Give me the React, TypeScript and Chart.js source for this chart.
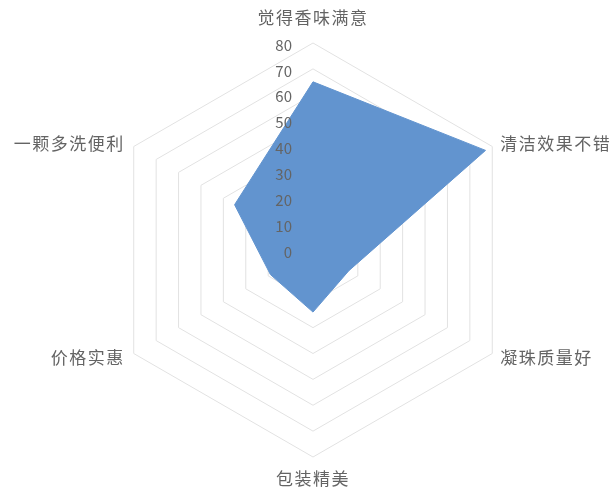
import React, { useEffect, useRef } from "react";
import { Chart, registerables } from "chart.js";

Chart.register(...registerables);

const categories = ["觉得香味满意", "清洁效果不错", "凝珠质量好", "包装精美", "价格实惠", "一颗多洗便利"];
const seriesValues = [65, 77, 16, 24, 19, 35];
const tickValues = [0, 10, 20, 30, 40, 50, 60, 70, 80];

const TEXT_COLOR = "#646464";
const FONT_FAMILY = '"Noto Sans CJK SC", "Noto Sans", sans-serif';

const labelPlugin = {
  id: "excelLabels",
  afterDatasetsDraw(chart: any) {
    const scale = chart.scales.r;
    const ctx = chart.ctx;
    ctx.save();
    // tick labels, left of the vertical axis
    ctx.fillStyle = TEXT_COLOR;
    ctx.font = `15px ${FONT_FAMILY}`;
    ctx.textAlign = "right";
    ctx.textBaseline = "middle";
    tickValues.forEach((v) => {
      const p = scale.getPointPositionForValue(0, v);
      ctx.fillText(String(v), p.x - 21, p.y + 2);
    });
    // category labels
    ctx.font = `17px ${FONT_FAMILY}`;
    (ctx as any).letterSpacing = "1.5px";
    categories.forEach((label, i) => {
      const p = scale.getPointPosition(i, scale.drawingArea);
      const dx = p.x - scale.xCenter;
      const dy = p.y - scale.yCenter;
      let x = p.x;
      let y = p.y;
      if (Math.abs(dx) < 5) {
        ctx.textAlign = "center";
        y = dy < 0 ? p.y - 25 : p.y + 22;
      } else if (dx > 0) {
        ctx.textAlign = "left";
        x = p.x + 8;
        y = dy < 0 ? p.y - 3 : p.y + 4;
      } else {
        ctx.textAlign = "right";
        x = p.x - 9;
        y = dy < 0 ? p.y - 3 : p.y + 4;
      }
      ctx.fillText(label, x, y);
    });
    ctx.restore();
  },
};

export default function App() {
  const canvasRef = useRef<HTMLCanvasElement | null>(null);

  useEffect(() => {
    const canvas = canvasRef.current;
    if (!canvas) return;
    const chart = new Chart(canvas, {
      type: "radar",
      data: {
        labels: categories,
        datasets: [
          {
            data: seriesValues,
            backgroundColor: "#6294cf",
            borderColor: "#6294cf",
            borderWidth: 1,
            fill: true,
            pointRadius: 0,
          },
        ],
      },
      options: {
        responsive: false,
        animation: false,
        layout: { padding: { left: 106, top: 43, right: 95, bottom: 35 } },
        plugins: { legend: { display: false }, tooltip: { enabled: false } },
        scales: {
          r: {
            min: 0,
            max: 80,
            ticks: { stepSize: 10, display: false },
            grid: { color: "#e2e2e2", lineWidth: 1 },
            angleLines: { display: false },
            pointLabels: { display: false },
          },
        },
      },
      plugins: [labelPlugin],
    });
    return () => chart.destroy();
  }, []);

  return (
    <div style={{ position: "fixed", left: 0, top: 0, width: 615, height: 492, background: "#fff" }}>
      <canvas ref={canvasRef} width={615} height={492} style={{ width: 615, height: 492 }} />
    </div>
  );
}
